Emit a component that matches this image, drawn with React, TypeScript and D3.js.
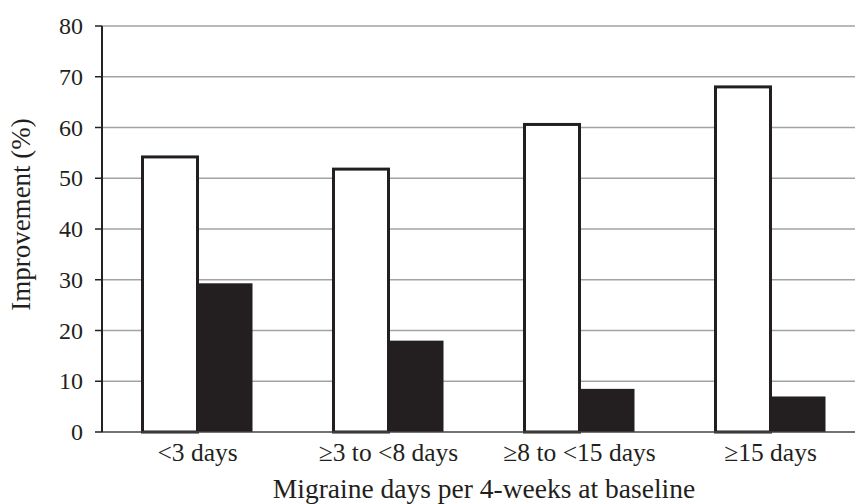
import React from "react";
import * as d3 from "d3";

const categories = ["<3 days", "\u22653 to <8 days", "\u22658 to <15 days", "\u226515 days"];
const whiteValues = [54.2, 51.8, 60.6, 68.0];
const blackValues = [29.3, 18.0, 8.5, 7.0];
const yTicks = [0, 10, 20, 30, 40, 50, 60, 70, 80];
const yTitle = "Improvement (%)";
const xTitle = "Migraine days per 4-weeks at baseline";

const W = 855;
const H = 504;
const left = 102;
const right = 866;
const top = 26;
const bottom = 432;
const font = "'Liberation Serif', 'Times New Roman', serif";

export default function App() {
  const x = d3.scaleBand<string>().domain(categories).range([left, right]);
  const y = d3.scaleLinear().domain([0, 80]).range([bottom, top]);
  const barW = 55;

  return (
    <svg width={W} height={H} style={{ position: "absolute", left: 0, top: 0, background: "#fff" }}>
      {yTicks.map((t) => (
        <g key={t}>
          {t > 0 && <line x1={left} x2={W} y1={y(t)} y2={y(t)} stroke="#a3a3a3" strokeWidth={1.5} />}
          <line x1={left - 7} x2={left} y1={y(t)} y2={y(t)} stroke="#222" strokeWidth={1.5} />
          <text x={83} y={y(t)} dy="0.34em" textAnchor="end" fontFamily={font} fontSize={24} fill="#231f20">
            {t}
          </text>
        </g>
      ))}
      {categories.map((c, i) => {
        const cx = (x(c) as number) + x.bandwidth() / 2;
        return (
          <g key={c}>
            <rect
              x={cx - barW}
              y={y(whiteValues[i])}
              width={barW}
              height={y(0) - y(whiteValues[i])}
              fill="#fff"
              stroke="#231f20"
              strokeWidth={3}
            />
            <rect
              x={cx}
              y={y(blackValues[i])}
              width={barW}
              height={y(0) - y(blackValues[i])}
              fill="#231f20"
            />
            <text x={cx} y={461} textAnchor="middle" fontFamily={font} fontSize={25.5} fill="#231f20">
              {c}
            </text>
          </g>
        );
      })}
      <line x1={left} x2={W} y1={bottom} y2={bottom} stroke="#444" strokeWidth={1.5} />
      <line x1={left} x2={left} y1={top} y2={bottom} stroke="#222" strokeWidth={2} />
      <text x={484} y={498} textAnchor="middle" fontFamily={font} fontSize={27.5} fill="#231f20">
        {xTitle}
      </text>
      <text
        transform={`translate(30, 214.5) rotate(-90)`}
        textAnchor="middle"
        fontFamily={font}
        fontSize={27}
        fill="#231f20"
      >
        {yTitle}
      </text>
    </svg>
  );
}
